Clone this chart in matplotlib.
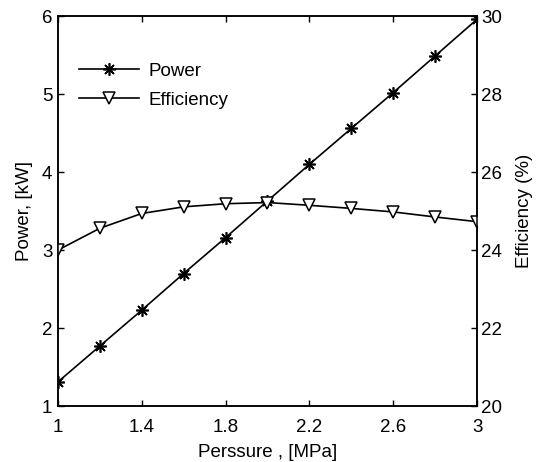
import matplotlib
matplotlib.use("Agg")
import matplotlib.pyplot as plt

plt.rcParams["font.family"] = ["Liberation Sans", "DejaVu Sans"]
plt.rcParams["font.size"] = 13.5

pressure = [1.0, 1.2, 1.4, 1.6, 1.8, 2.0, 2.2, 2.4, 2.6, 2.8, 3.0]
power_kw = [1.31, 1.77, 2.23, 2.70, 3.16, 3.63, 4.10, 4.56, 5.02, 5.49, 5.96]
efficiency_pct = [24.0, 24.56, 24.94, 25.11, 25.19, 25.22, 25.15, 25.07, 24.98, 24.85, 24.73]

x_ticks = [1, 1.4, 1.8, 2.2, 2.6, 3]
x_tick_labels = ["1", "1.4", "1.8", "2.2", "2.6", "3"]
power_ticks = [1, 2, 3, 4, 5, 6]
eff_ticks = [20, 22, 24, 26, 28, 30]

fig = plt.figure(figsize=(5.36, 4.62), dpi=100)
ax = fig.add_axes([0.108, 0.121, 0.782, 0.844])
ax2 = ax.twinx()

(p_line,) = ax.plot(pressure, power_kw, color="black", lw=1.2,
                    marker=(8, 2, 0), ms=9, mew=1.2, label="Power")
(e_line,) = ax2.plot(pressure, efficiency_pct, color="black", lw=1.2,
                     marker="v", ms=9, mfc="white", mec="black", mew=1.1,
                     label="Efficiency")

ax.set_xlim(1, 3)
ax.set_ylim(1, 6)
ax2.set_ylim(20, 30)
ax.set_xticks(x_ticks)
ax.set_xticklabels(x_tick_labels)
ax.set_yticks(power_ticks)
ax2.set_yticks(eff_ticks)

ax.tick_params(direction="in", top=True, right=False, length=4, width=1)
ax.tick_params(axis="x", pad=9)
ax.tick_params(axis="y", pad=4)
ax2.tick_params(direction="in", length=4, width=1, pad=3)
for a in (ax, ax2):
    for s in a.spines.values():
        s.set_linewidth(1.1)

ax.set_xlabel("Perssure , [MPa]", labelpad=6)
ax.set_ylabel("Power, [kW]", labelpad=6)
ax2.set_ylabel("Efficiency (%)", labelpad=10)

ax.legend([p_line, e_line], ["Power", "Efficiency"], loc="upper left",
          bbox_to_anchor=(0.032, 0.9), frameon=False, handlelength=3.2,
          labelspacing=0.62, handletextpad=0.5, borderaxespad=0)

fig.savefig("out.png", dpi=100)
